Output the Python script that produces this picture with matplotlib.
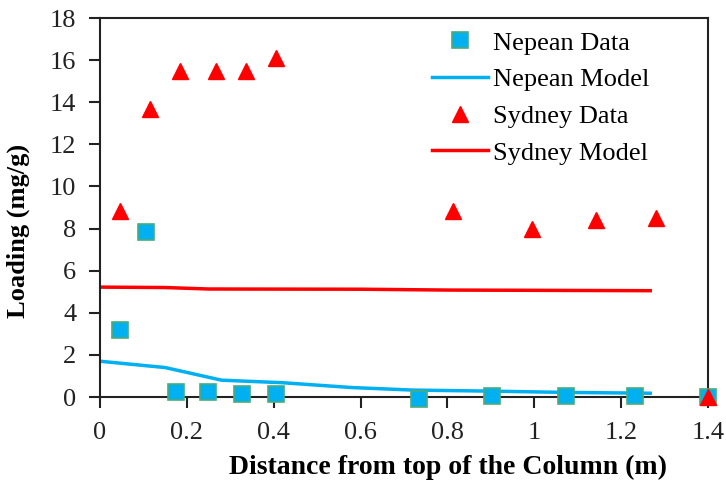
import matplotlib.pyplot as plt

# Measured loadings along the column
nepean_x = [0.046, 0.106, 0.175, 0.249, 0.327, 0.405, 0.735, 0.903, 1.074, 1.233, 1.4]
nepean_y = [3.2, 7.85, 0.25, 0.25, 0.15, 0.15, -0.1, 0.05, 0.05, 0.05, 0.0]

sydney_x = [0.046, 0.115, 0.184, 0.267, 0.336, 0.405, 0.813, 0.995, 1.143, 1.281, 1.4]
sydney_y = [8.85, 13.7, 15.5, 15.5, 15.5, 16.1, 8.85, 8.0, 8.4, 8.5, 0.0]

# Model predictions
nepean_model_x = [0, 0.15, 0.28, 0.42, 0.58, 0.72, 0.9, 1.07, 1.267]
nepean_model_y = [1.7, 1.4, 0.8, 0.68, 0.45, 0.33, 0.28, 0.22, 0.18]

sydney_model_x = [0, 0.15, 0.25, 0.6, 0.8, 1.267]
sydney_model_y = [5.22, 5.2, 5.13, 5.12, 5.08, 5.05]

plt.rcParams['font.family'] = ['Liberation Serif', 'DejaVu Serif']

fig = plt.figure(figsize=(7.26, 4.83), dpi=100)
ax = fig.add_axes([0.1377, 0.178, 0.8375, 0.7847])

ax.plot(nepean_x, nepean_y, 's', color='#00B0F0', markeredgecolor='#4BAC7A',
        markersize=11, markeredgewidth=1.2, clip_on=False, zorder=4, label='Nepean Data')
ax.plot(nepean_model_x, nepean_model_y, '-', color='#00B0F0', lw=2.5, label='Nepean Model')
ax.plot(sydney_x, sydney_y, '^', color='#FF0000', markersize=12, clip_on=False,
        zorder=5, label='Sydney Data')
ax.plot(sydney_model_x, sydney_model_y, '-', color='#FF0000', lw=2.5, label='Sydney Model')

ax.set_xlim(0, 1.4)
ax.set_ylim(0, 18)
ax.set_xticks([0, 0.2, 0.4, 0.6, 0.8, 1, 1.2, 1.4])
ax.set_xticklabels(['0', '0.2', '0.4', '0.6', '0.8', '1', '1.2', '1.4'])
ax.set_yticks(range(0, 19, 2))

for s in ax.spines.values():
    s.set_linewidth(1.5)
    s.set_color('#222222')
ax.tick_params(direction='out', length=8, width=1.5, labelsize=19, colors='#222222')
ax.tick_params(axis='y', pad=9)
ax.tick_params(axis='x', pad=10)

ax.set_xlabel('Distance from top of the Column (m)', fontsize=20, fontweight='bold')
ax.xaxis.set_label_coords(0.572, -0.153)
ax.set_ylabel('Loading (mg/g)', fontsize=19, fontweight='bold')
ax.yaxis.set_label_coords(-0.115, 0.438)

ax.legend(loc='upper left', bbox_to_anchor=(0.525, 1.0), frameon=False, fontsize=19,
          handlelength=2.1, handletextpad=0.2, labelspacing=0.5, borderaxespad=0.1)

fig.savefig('out.png', dpi=100)
